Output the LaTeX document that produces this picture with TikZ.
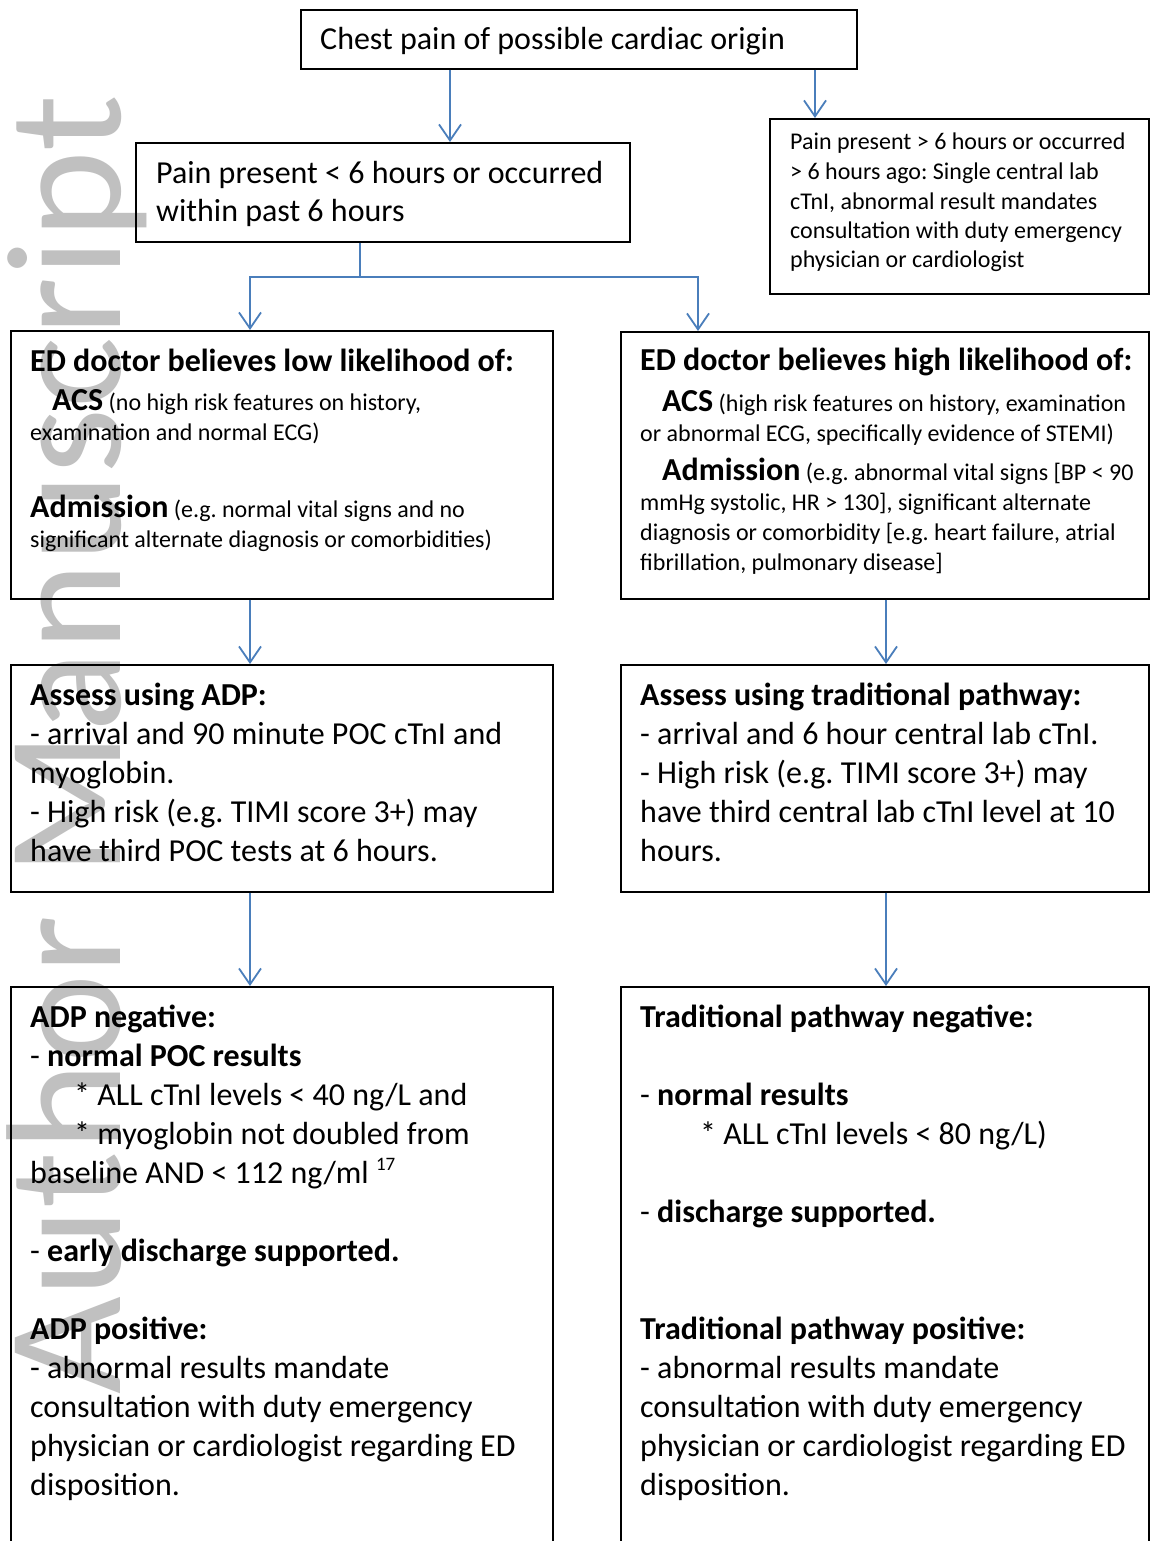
\documentclass[tikz,border=0pt]{standalone}
\usepackage{fontspec}
\usepackage{graphicx}
\setmainfont{Carlito}
\usetikzlibrary{arrows.meta}
\definecolor{arrowblue}{RGB}{74,126,187}
\definecolor{wmgray}{RGB}{192,192,192}
\tikzset{
  box/.style={draw=black, line width=1.6pt, rectangle, inner sep=0pt, anchor=north west},
  conn/.style={draw=arrowblue, line width=1.8pt},
  arr/.style={conn, -{Straight Barb[length=16pt,width=22pt]}},
  bigtext/.style={anchor=base west, inner sep=0pt, align=flush left, font=\fontsize{32pt}{39pt}\selectfont},
  smalltext/.style={anchor=base west, inner sep=0pt, align=flush left, font=\fontsize{24pt}{30pt}\selectfont},
  wmark/.style={rotate=90, anchor=base west, inner sep=0pt, text=wmgray, font=\fontsize{164pt}{170pt}\selectfont},
}
\newcommand{\BigB}[1]{{\fontsize{32pt}{39pt}\selectfont\bfseries #1}}
\begin{document}
\lineskiplimit=-100pt
\frenchspacing
\begin{tikzpicture}[x=1pt,y=-1pt]
\fill[white] (0,0) rectangle (1151,1541);
\useasboundingbox (0,0) rectangle (1151,1541);
\clip (0,0) rectangle (1151,1541);

% watermark
\node[wmark] (wm) at (120,1395) {\scalebox{1.03}[1]{Author Manuscript}};

% boxes
\node[box, minimum width=556pt, minimum height=59pt] (top) at (300,9) {};
\node[box, minimum width=494pt, minimum height=99pt] (pain) at (135,142) {};
\node[box, minimum width=379pt, minimum height=175pt] (late) at (769,118) {};
\node[box, minimum width=542pt, minimum height=268pt] (edlow) at (10,330) {};
\node[box, minimum width=528pt, minimum height=267pt] (edhigh) at (620,331) {};
\node[box, minimum width=542pt, minimum height=227pt] (adp) at (10,664) {};
\node[box, minimum width=528pt, minimum height=227pt] (trad) at (620,664) {};
\node[box, minimum width=542pt, minimum height=600pt] (adpres) at (10,986) {};
\node[box, minimum width=528pt, minimum height=600pt] (tradres) at (620,986) {};

% connector guide coordinates
\coordinate (xa) at (450,0);
\coordinate (xb) at (815,0);
\coordinate (xl) at (250,0);
\coordinate (xr) at (698,0);
\coordinate (xd) at (886,0);
\coordinate (junc) at (360,277);

\draw[arr] (top.south -| xa) -- (pain.north -| xa);
\draw[arr] (top.south -| xb) -- (late.north -| xb);
\draw[conn] (pain.south -| junc) -- (junc);
\draw[arr] (junc) -| (edlow.north -| xl);
\draw[arr] (junc) -| (edhigh.north -| xr);
\draw[arr] (edlow.south -| xl) -- (adp.north -| xl);
\draw[arr] (edhigh.south -| xd) -- (trad.north -| xd);
\draw[arr] (adp.south -| xl) -- (adpres.north -| xl);
\draw[arr] (trad.south -| xd) -- (tradres.north -| xd);

% texts
\node[bigtext, text width=520pt] (ttop) at (320,50) {Chest pain of possible cardiac origin};
\node[bigtext, font=\fontsize{32pt}{38pt}\selectfont, text width=465pt] (tpain) at (156,183)
  {Pain present < 6 hours or occurred\\ within past 6 hours};
\node[smalltext, font=\fontsize{24pt}{29.5pt}\selectfont, text width=352pt] (tlate) at (790,150)
  {Pain present > 6 hours or occurred\\
   > 6 hours ago: Single central lab\\
   cTnI, abnormal result mandates\\
   consultation with duty emergency\\
   physician or cardiologist};

\node[smalltext, text width=515pt] (tedlow) at (30,371)
  {\BigB{ED doctor believes low likelihood of:}\\[9pt]
   \hspace*{22pt}\BigB{ACS} (no high risk features on history,\\
   examination and normal ECG)\\[47pt]
   \BigB{Admission} (e.g. normal vital signs and no\\
   significant alternate diagnosis or comorbidities)};

\node[smalltext, text width=505pt] (tedhigh) at (640,370)
  {\BigB{ED doctor believes high likelihood of:}\\[11pt]
   \hspace*{22pt}\BigB{ACS} (high risk features on history, examination\\
   or abnormal ECG, specifically evidence of STEMI)\\[9pt]
   \hspace*{22pt}\BigB{Admission} (e.g. abnormal vital signs [BP < 90\\
   mmHg systolic, HR > 130], significant alternate\\
   diagnosis or comorbidity [e.g. heart failure, atrial\\
   fibrillation, pulmonary disease]};

\node[bigtext, text width=515pt] (tadp) at (30,705)
  {\textbf{Assess using ADP:}\\
   - arrival and 90 minute POC cTnI and\\
   myoglobin.\\
   - High risk (e.g. TIMI score 3+) may\\
   have third POC tests at 6 hours.};

\node[bigtext, text width=505pt] (ttrad) at (640,705)
  {\textbf{Assess using traditional pathway:}\\
   - arrival and 6 hour central lab cTnI.\\
   - High risk (e.g. TIMI score 3+) may\\
   have third central lab cTnI level at 10\\
   hours.};

\node[bigtext, text width=515pt] (tadpres) at (30,1027)
  {\textbf{ADP negative:}\\
   - \textbf{normal POC results}\\
   \hspace*{44pt}* ALL cTnI levels < 40 ng/L and\\
   \hspace*{44pt}* myoglobin not doubled from\\
   baseline AND < 112 ng/ml \raisebox{13pt}{\fontsize{19pt}{19pt}\selectfont 17}\\[39pt]
   - \textbf{early discharge supported.}\\[39pt]
   \textbf{ADP positive:}\\
   - abnormal results mandate\\
   consultation with duty emergency\\
   physician or cardiologist regarding ED\\
   disposition.};

\node[bigtext, text width=505pt] (ttradres) at (640,1027)
  {\textbf{Traditional pathway negative:}\\[39pt]
   - \textbf{normal results}\\
   \hspace*{60pt}* ALL cTnI levels < 80 ng/L)\\[39pt]
   - \textbf{discharge supported.}\\[78pt]
   \textbf{Traditional pathway positive:}\\
   - abnormal results mandate\\
   consultation with duty emergency\\
   physician or cardiologist regarding ED\\
   disposition.};
\end{tikzpicture}
\end{document}
